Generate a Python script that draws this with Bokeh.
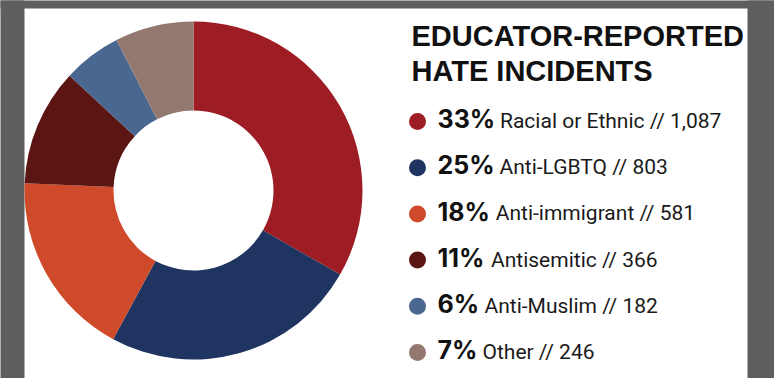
import math
from bokeh.plotting import figure
from bokeh.models import Range1d, ColumnDataSource
from bokeh.core.properties import value
from bokeh.embed import file_html
from bokeh.resources import INLINE

# ---- data ----
categories = ["Racial or Ethnic", "Anti-LGBTQ", "Anti-immigrant", "Antisemitic", "Anti-Muslim", "Other"]
counts = [1087, 803, 581, 366, 182, 246]
percent_labels = ["33%", "25%", "18%", "11%", "6%", "7%"]
count_labels = ["1,087", "803", "581", "366", "182", "246"]
colors = ["#9E1D24", "#1F3460", "#CF4A2B", "#5B1513", "#4A678F", "#92786F"]
title_lines = ["EDUCATOR-REPORTED", "HATE INCIDENTS"]

W, H = 774, 378
GRAY = "#5E5E5E"
def Y(py):
    return H - py

p = figure(width=W, height=H, output_backend="svg", toolbar_location=None,
           x_range=Range1d(0, W), y_range=Range1d(0, H), min_border=0,
           x_axis_type=None, y_axis_type=None)
p.grid.visible = False
p.outline_line_color = None
p.background_fill_color = "white"
p.border_fill_color = "white"

# gray frame around white panel (top, left, right)
p.quad(left=[-10, -10, 747], right=[W + 10, 24, W + 10], bottom=[Y(8), -10, -10], top=[H + 10, H + 10, H + 10],
       fill_color=GRAY, line_color=None)

# donut
total = sum(counts)
starts, ends = [], []
cum = 0
for c in counts:
    starts.append(math.pi / 2 - cum / total * 2 * math.pi)
    cum += c
    ends.append(math.pi / 2 - cum / total * 2 * math.pi)
src = ColumnDataSource(dict(start=starts, end=ends, color=colors))
p.annular_wedge(x=193, y=Y(190), inner_radius=80, outer_radius=169,
                start_angle="start", end_angle="end", direction="clock",
                fill_color="color", line_color=None, source=src)

def base(py, size):
    # compensate renderer's baseline offset
    return Y(py - 0.43 * size)

# title
title_size = 29
for i, t in enumerate(title_lines):
    p.text(x=[411], y=[base(48 + 35 * i, title_size)], text=[t], text_font=value("Liberation Sans"),
           text_font_style="bold", text_font_size=f"{title_size}px", text_color="#111111",
           text_baseline="alphabetic", text_align="left")

# legend
row0, step = 121, 46.2
pct_size = 25
lab_size = 21
adv = {"0": .64, "1": .45, "2": .62, "3": .63, "4": .65, "5": .62, "6": .64, "7": .56,
       "8": .64, "9": .64, "%": .92}
def pct_width(s):
    return sum(adv[ch] for ch in s) * pct_size

centers = [row0 + step * i for i in range(len(categories))]
p.scatter(x=[417] * len(categories), y=[Y(c) for c in centers], size=17, color=colors, line_color=None)
p.text(x=[437] * len(categories), y=[base(c + 8.5, pct_size) for c in centers], text=percent_labels,
       text_font=value("Inter"), text_font_style="bold", text_font_size=f"{pct_size}px",
       text_color="#111111", text_baseline="alphabetic")
labels = [f"{c} // {n}" for c, n in zip(categories, count_labels)]
p.text(x=[437 + pct_width(s) + 8 for s in percent_labels], y=[base(c + 8.5, lab_size) for c in centers],
       text=labels, text_font=value("Roboto"), text_font_size=f"{lab_size}px", text_color="#1a1a1a",
       text_baseline="alphabetic")

open("out.html", "w").write(file_html(p, INLINE))
